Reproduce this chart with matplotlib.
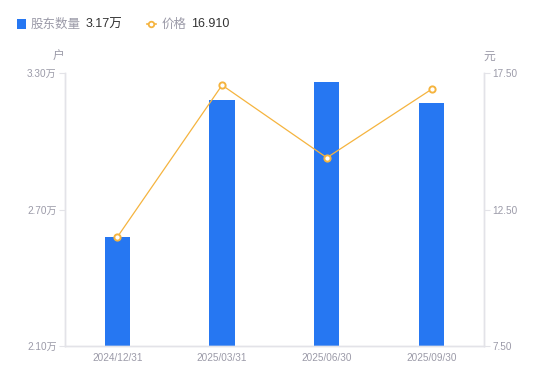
import matplotlib.pyplot as plt
import numpy as np

plt.rcParams['font.family'] = ['Liberation Sans', 'Noto Sans CJK SC', 'DejaVu Sans']

dates = ["2024/12/31", "2025/03/31", "2025/06/30", "2025/09/30"]
holders = [2.58, 3.18, 3.26, 3.17]  # 万户
price = [11.49, 17.06, 14.40, 16.91]

left_ticks = [2.10, 2.70, 3.30]
right_ticks = [7.50, 12.50, 17.50]

bar_color = "#2677f2"
line_color = "#f5b43f"
text_gray = "#9b9aa8"
axis_gray = "#e3e3e8"

fig = plt.figure(figsize=(5.5, 3.81), dpi=100)
ax = fig.add_axes([0.118, 0.092, 0.762, 0.716])
ax2 = ax.twinx()

x = np.arange(len(dates))
ax.bar(x, holders, width=0.24, color=bar_color, zorder=2)
ax.set_ylim(left_ticks[0], left_ticks[-1])
ax.set_xlim(-0.5, len(dates) - 0.5)
ax.set_yticks(left_ticks)
ax.set_yticklabels([f"{v:.2f}万" for v in left_ticks])
ax.set_xticks(x)
ax.set_xticklabels(dates)

ax2.plot(x, price, color=line_color, linewidth=0.9, marker="o", markersize=4.5,
         markerfacecolor="white", markeredgecolor=line_color, markeredgewidth=1.4, zorder=3)
ax2.set_ylim(right_ticks[0], right_ticks[-1])
ax2.set_yticks(right_ticks)
ax2.set_yticklabels([f"{v:.2f}" for v in right_ticks])

for a in (ax, ax2):
    for s in a.spines.values():
        s.set_color(axis_gray)
        s.set_linewidth(1.0)
    a.spines["top"].set_visible(False)
    a.tick_params(colors=axis_gray, labelcolor=text_gray, labelsize=7.2, length=4, width=0.8)
ax.tick_params(axis="x", length=0, pad=5)
ax.tick_params(axis="y", pad=2)
ax2.tick_params(axis="y", pad=2)

# unit labels
fig.text(0.107, 0.850, "户", color=text_gray, fontsize=8.5, ha="center", va="center")
fig.text(0.89, 0.850, "元", color=text_gray, fontsize=8.5, ha="center", va="center")

# legend row
fig.patches.append(plt.Rectangle((0.030, 0.924), 0.017, 0.025, transform=fig.transFigure,
                                 facecolor=bar_color, edgecolor="none"))
fig.text(0.055, 0.936, "股东数量", color=text_gray, fontsize=9, va="center")
fig.text(0.155, 0.936, f"{holders[-1]:.2f}万", color="#333333", fontsize=9, va="center")
fig.lines.append(plt.Line2D([0.267, 0.275, 0.283], [0.936, 0.936, 0.936],
                            transform=fig.transFigure, color=line_color, linewidth=1.2,
                            marker="o", markersize=4, markevery=[1], markerfacecolor="white",
                            markeredgecolor=line_color, markeredgewidth=1.3))
fig.text(0.293, 0.936, "价格", color=text_gray, fontsize=9, va="center")
fig.text(0.348, 0.936, f"{price[-1]:.3f}", color="#333333", fontsize=9, va="center")

fig.savefig("out.png", dpi=100)
